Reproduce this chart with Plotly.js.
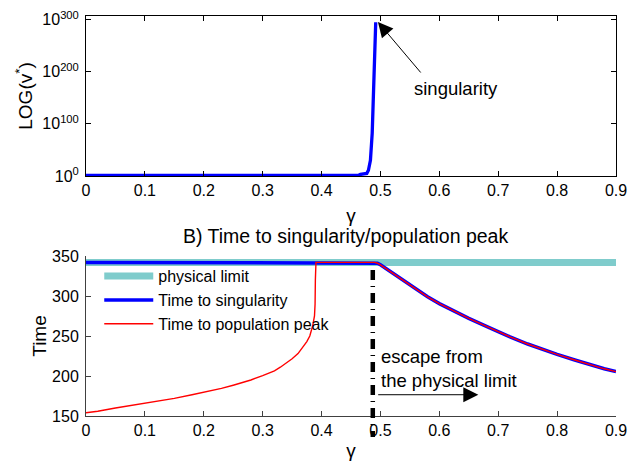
<!DOCTYPE html>
<html><head><meta charset="utf-8">
<script src="https://cdn.plot.ly/plotly-3.0.1.min.js"></script>
<style>html,body{margin:0;padding:0;background:#fff}</style>
</head><body><div id="chart" style="width:641px;height:464px"></div>
<script>
// ---- data ----
const gammaTicks = [0, 0.1, 0.2, 0.3, 0.4, 0.5, 0.6, 0.7, 0.8, 0.9];
const gammaTickText = ['0', '0.1', '0.2', '0.3', '0.4', '0.5', '0.6', '0.7', '0.8', '0.9'];

// Panel A: v* against gamma (log scale)
const gammaTop = [0, 0.462, 0.466, 0.472, 0.4768, 0.4796, 0.483, 0.486, 0.4875, 0.4886, 0.4905, 0.492];
const vStar    = [1e1, 1e1, 1e3, 1e4, 1e5, 1e11, 1e30, 1e82, 1e140, 1e208, 1e260, 1e295];
const vTickVals = [1, 1e100, 1e200, 1e300];
const vTickText = ['10<sup>0</sup>', '10<sup>100</sup>', '10<sup>200</sup>', '10<sup>300</sup>'];

// Panel B: times
const physicalLimit = 342;
const gammaSing = [0, 0.49, 0.495, 0.50, 0.51, 0.52, 0.54, 0.56, 0.58, 0.60, 0.62, 0.65, 0.68, 0.70, 0.72, 0.75, 0.78, 0.80, 0.83, 0.86, 0.88, 0.90];
const timeSing  = [342, 342, 341, 339, 334, 329, 319, 309, 299, 290.5, 283, 272, 262, 255, 249, 240, 232, 227, 220, 213, 209, 205.5];
const gammaPeakRise = [0, 0.02, 0.05, 0.08, 0.10, 0.13, 0.15, 0.18, 0.20, 0.23, 0.25, 0.28, 0.30, 0.32, 0.33, 0.34, 0.35, 0.36, 0.37, 0.375, 0.38, 0.385, 0.388, 0.389, 0.3895, 0.3905];
const timePeakRise  = [154, 156, 160, 163.5, 165.5, 169.5, 172, 176.5, 179.5, 184.5, 188.5, 195, 200.5, 206.5, 211, 216, 221.5, 228, 238, 243, 250, 263, 275, 290, 320, 342];
const timeTicks = [150, 200, 250, 300, 350];
const escapeGamma = 0.487;

// red curve: rise, plateau at the limit, then identical to the singularity time
const gammaPeak = gammaPeakRise.concat(gammaSing.filter(g => g >= 0.49));
const timePeak  = timePeakRise.concat(timeSing.filter((t, i) => gammaSing[i] >= 0.49));

const FONT = 'Liberation Sans, Arial, Helvetica, sans-serif';

const traces = [
  {x: gammaTop, y: vStar, xaxis: 'x', yaxis: 'y', mode: 'lines',
   line: {color: '#0000ff', width: 3.3}, showlegend: false, hoverinfo: 'skip'},
  {x: [gammaTicks[0], gammaTicks[gammaTicks.length - 1]], y: [physicalLimit, physicalLimit],
   xaxis: 'x2', yaxis: 'y2', mode: 'lines', name: 'physical limit',
   line: {color: '#7fcccc', width: 7}},
  {x: gammaSing, y: timeSing, xaxis: 'x2', yaxis: 'y2', mode: 'lines', name: 'Time to singularity',
   line: {color: '#0000ff', width: 3.5}},
  {x: gammaPeak, y: timePeak, xaxis: 'x2', yaxis: 'y2', mode: 'lines', name: 'Time to population peak',
   line: {color: '#ff0000', width: 1.4}}
];

const commonX = {
  range: [0, 0.9], tickvals: gammaTicks, ticktext: gammaTickText,
  ticks: 'inside', ticklen: 5, showline: true, showgrid: false, zeroline: false,
  tickfont: {family: FONT, size: 16, color: '#000'}
};

const layout = {
  width: 641, height: 464,
  margin: {l: 86, r: 25, t: 16, b: 48},
  paper_bgcolor: '#fff', plot_bgcolor: '#fff',
  font: {family: FONT, color: '#000'},
  xaxis: Object.assign({}, commonX, {
    domain: [0, 1], anchor: 'y', mirror: 'ticks', linecolor: '#000', tickcolor: '#000',
    title: {text: 'γ', font: {family: FONT, size: 19}, standoff: 10}
  }),
  yaxis: {
    domain: [0.6, 1], anchor: 'x', type: 'log', range: [0, 307],
    tickvals: vTickVals, ticktext: vTickText,
    ticks: 'inside', ticklen: 5, showline: true, mirror: 'ticks', linecolor: '#000', tickcolor: '#000',
    showgrid: false, zeroline: false, ticklabelstandoff: 3,
    tickfont: {family: FONT, size: 16, color: '#000'},
    title: {text: 'LOG(v<sup>*</sup>)', font: {family: FONT, size: 19}, standoff: 4}
  },
  xaxis2: Object.assign({}, commonX, {
    domain: [0, 1], anchor: 'y2', linecolor: '#404040', tickcolor: '#404040',
    title: {text: 'γ', font: {family: FONT, size: 19}, standoff: 5}
  }),
  yaxis2: {
    domain: [0, 0.4], anchor: 'x2', range: [150, 350], tickvals: timeTicks,
    ticks: 'inside', ticklen: 5, showline: true, linecolor: '#404040', tickcolor: '#404040',
    showgrid: false, zeroline: false, ticklabelstandoff: 3,
    tickfont: {family: FONT, size: 16, color: '#000'},
    title: {text: 'Time', font: {family: FONT, size: 19}, standoff: 0}
  },
  legend: {
    x: 0.025, y: 0.392, xanchor: 'left', yanchor: 'top',
    bgcolor: 'rgba(0,0,0,0)', borderwidth: 0, itemwidth: 49,
    font: {family: FONT, size: 16, color: '#000'}, tracegroupgap: 0
  },
  shapes: [
    {type: 'line', xref: 'x2', yref: 'paper', x0: escapeGamma, x1: escapeGamma, y0: 0.365, y1: -0.0525,
     line: {color: '#000', width: 4.5, dash: '10px,6px,1px,6px'}, layer: 'above'}
  ],
  annotations: [
    {text: 'B) Time to singularity/population peak', xref: 'paper', yref: 'paper', x: 0.49, y: 0.45,
     xanchor: 'center', yanchor: 'middle', showarrow: false, font: {family: FONT, size: 19.5}},
    {text: 'singularity', xref: 'x', yref: 'y', x: 0.629, y: 167.9, xanchor: 'center', yanchor: 'middle',
     showarrow: false, font: {family: FONT, size: 18.5}},
    {text: '', xref: 'x', yref: 'y', x: 0.4958, y: 295.5, ax: 44, ay: 52, showarrow: true,
     arrowhead: 2, arrowsize: 3, arrowwidth: 1, arrowcolor: '#000', standoff: 0},
    {text: 'escape from<br>the physical limit', xref: 'x2', yref: 'y2', x: 0.4975, y: 209.3,
     xanchor: 'left', yanchor: 'middle', align: 'left', showarrow: false, font: {family: FONT, size: 18.5}},
    {text: '', xref: 'x2', yref: 'y2', x: 0.6662, y: 176.6, axref: 'x2', ayref: 'y2', ax: 0.4936, ay: 176.6,
     showarrow: true, arrowhead: 2, arrowsize: 3, arrowwidth: 1, arrowcolor: '#000', standoff: 0}
  ]
};

Plotly.newPlot('chart', traces, layout, {displayModeBar: false, staticPlot: true});
</script></body></html>
